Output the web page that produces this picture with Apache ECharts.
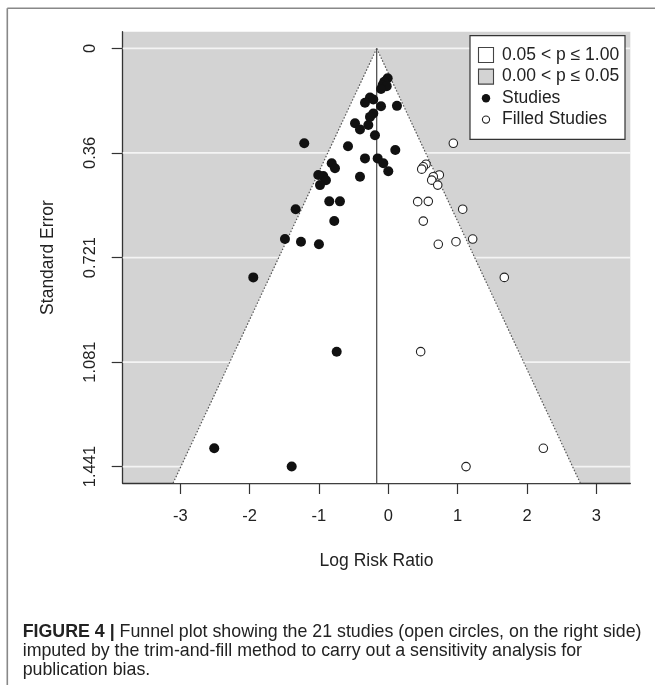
<!DOCTYPE html>
<html>
<head>
<meta charset="utf-8">
<script src="https://cdn.jsdelivr.net/npm/echarts@6/dist/echarts.min.js"></script>
<style>
html, body { margin: 0; padding: 0; background: #ffffff; }
#chart { width: 655px; height: 685px; }
</style>
</head>
<body>
<div id="chart"></div>
<script>
// ---- data ----
const xTicks = [-3, -2, -1, 0, 1, 2, 3];
const seTicks = [0, 0.36, 0.721, 1.081, 1.441];
const xRange = [-3.83, 3.49];
const seRange = [-0.0576, 1.4986];
const estimate = -0.167;
const zCrit = 1.96;

const studiesLogRR = [-0.009, -0.058, -0.081, -0.023, -0.105, -0.264, -0.216, -0.336, -0.105, 0.125,
  -0.216, -0.264, -0.480, -0.288, -0.408, -0.192, -1.212, -0.581, 0.101, -0.336,
  -0.153, -0.072, 0.000, -0.816, -0.769, -1.010, -0.938, -0.899, -0.985, -0.408,
  -0.851, -0.697, -1.336, -0.779, -1.490, -1.259, -1.000, -1.947, -0.744, -2.510, -1.393];
const studiesSE = [0.103, 0.115, 0.126, 0.130, 0.140, 0.169, 0.176, 0.187, 0.199, 0.198,
  0.224, 0.236, 0.258, 0.264, 0.279, 0.299, 0.327, 0.337, 0.350, 0.379,
  0.379, 0.396, 0.423, 0.396, 0.413, 0.436, 0.440, 0.454, 0.471, 0.442,
  0.527, 0.527, 0.554, 0.595, 0.657, 0.666, 0.675, 0.789, 1.045, 1.378, 1.441];

const filledLogRR = [0.938, 0.544, 0.505, 0.482, 0.736, 0.649, 0.626, 0.713, 0.424, 0.577,
  1.073, 0.505, 1.217, 0.976, 0.721, 1.673, 0.467, 2.236, 1.121];
const filledSE = [0.327, 0.399, 0.408, 0.416, 0.436, 0.442, 0.454, 0.471, 0.528, 0.527,
  0.554, 0.595, 0.657, 0.666, 0.675, 0.789, 1.045, 1.378, 1.441];

const legendLabels = ['0.05 < p \u2264 1.00', '0.00 < p \u2264 0.05', 'Studies', 'Filled Studies'];
const xTitle = 'Log Risk Ratio';
const yTitle = 'Standard Error';
const captionBold = 'FIGURE 4 |';
const captionLines = [
  ' Funnel plot showing the 21 studies (open circles, on the right side)',
  'imputed by the trim-and-fill method to carry out a sensitivity analysis for',
  'publication bias.'
];

// ---- chart ----
const FONT = 'Liberation Sans, Arial, sans-serif';
const chart = echarts.init(document.getElementById('chart'), null, { renderer: 'canvas' });

const studiesData = studiesLogRR.map((v, i) => [v, studiesSE[i]]);
const filledData = filledLogRR.map((v, i) => [v, filledSE[i]]);

function renderFunnel(params, api) {
  const yMax = seRange[1];
  const apex = api.coord([estimate, 0]);
  const bl = api.coord([estimate - zCrit * yMax, yMax]);
  const br = api.coord([estimate + zCrit * yMax, yMax]);
  const children = [];
  seTicks.forEach(t => {
    const a = api.coord([xRange[0], t]);
    const b = api.coord([xRange[1], t]);
    children.push({ type: 'line', shape: { x1: a[0], y1: a[1], x2: b[0], y2: b[1] },
      style: { stroke: '#f4f4f4', lineWidth: 1.6 } });
  });
  children.push({ type: 'polygon', shape: { points: [apex, bl, br] },
    style: { fill: '#ffffff', stroke: null } });
  children.push({ type: 'line', shape: { x1: apex[0], y1: apex[1], x2: bl[0], y2: bl[1] },
    style: { stroke: '#555', lineWidth: 1.2, lineDash: [1.5, 1.8] } });
  children.push({ type: 'line', shape: { x1: apex[0], y1: apex[1], x2: br[0], y2: br[1] },
    style: { stroke: '#555', lineWidth: 1.2, lineDash: [1.5, 1.8] } });
  const bottom = api.coord([estimate, yMax]);
  children.push({ type: 'line', shape: { x1: apex[0], y1: apex[1], x2: bottom[0], y2: bottom[1] },
    style: { stroke: '#444', lineWidth: 1.2 } });
  return { type: 'group', children: children };
}

// legend (graphic)
const legBox = { x: 470, y: 35.7, w: 155, h: 103.6 };
const legRowY = [55, 76.6, 98.2, 119.6];
const legendGraphics = [
  { type: 'rect', shape: { x: legBox.x, y: legBox.y, width: legBox.w, height: legBox.h },
    style: { fill: '#ffffff', stroke: '#333', lineWidth: 1.2 }, z: 10 },
  { type: 'rect', shape: { x: 478.5, y: legRowY[0] - 7.5, width: 15, height: 15 },
    style: { fill: '#ffffff', stroke: '#444', lineWidth: 1.1 }, z: 11 },
  { type: 'rect', shape: { x: 478.5, y: legRowY[1] - 7.5, width: 15, height: 15 },
    style: { fill: '#d3d3d3', stroke: '#444', lineWidth: 1.1 }, z: 11 },
  { type: 'circle', shape: { cx: 486, cy: legRowY[2], r: 4.2 },
    style: { fill: '#111' }, z: 11 },
  { type: 'circle', shape: { cx: 486, cy: legRowY[3], r: 3.6 },
    style: { fill: '#fff', stroke: '#222', lineWidth: 1.1 }, z: 11 }
];
legendLabels.forEach((t, i) => {
  legendGraphics.push({ type: 'text', x: 502, y: legRowY[i], z: 11,
    style: { text: t, font: '17.5px ' + FONT, fill: '#222', textVerticalAlign: 'middle', textAlign: 'left' } });
});

// frame + caption
const CAP = 17.8;
const frameGraphics = [
  { type: 'line', shape: { x1: 7.3, y1: 8.3, x2: 7.3, y2: 690 }, style: { stroke: '#888', lineWidth: 1.6 } },
  { type: 'line', shape: { x1: 7.3, y1: 8.3, x2: 660, y2: 8.3 }, style: { stroke: '#888', lineWidth: 1.6 } },
  { type: 'text', x: 22.7, y: 632, style: {
      text: '{b|' + captionBold + '}{r|' + captionLines[0] + '}',
      rich: { b: { font: 'bold ' + CAP + 'px ' + FONT, fill: '#222' }, r: { font: CAP + 'px ' + FONT, fill: '#222' } },
      textVerticalAlign: 'middle' } },
  { type: 'text', x: 22.7, y: 651, style: { text: captionLines[1], font: CAP + 'px ' + FONT, fill: '#222', textVerticalAlign: 'middle' } },
  { type: 'text', x: 22.7, y: 670, style: { text: captionLines[2], font: CAP + 'px ' + FONT, fill: '#222', textVerticalAlign: 'middle' } }
];

const option = {
  animation: false,
  backgroundColor: '#ffffff',
  grid: { left: 122.7, top: 31.7, width: 507.6, height: 451.6, show: true,
    backgroundColor: '#d3d3d3', borderWidth: 0, containLabel: false },
  xAxis: {
    type: 'value', min: xRange[0], max: xRange[1], position: 'bottom',
    name: xTitle, nameLocation: 'middle', nameGap: 69,
    nameTextStyle: { fontSize: 17.5, fontFamily: FONT, color: '#222' },
    axisLine: { show: true, onZero: false, lineStyle: { color: '#333', width: 1.3 } },
    axisTick: { show: true, length: 10.7, customValues: xTicks, lineStyle: { color: '#333', width: 1.2 } },
    axisLabel: { customValues: xTicks, margin: 25, fontSize: 16.5, fontFamily: FONT, color: '#222',
      formatter: v => String(v) },
    splitLine: { show: false }
  },
  yAxis: {
    type: 'value', inverse: true, min: seRange[0], max: seRange[1],
    name: yTitle, nameLocation: 'middle', nameGap: 66, nameRotate: 90,
    nameTextStyle: { fontSize: 17.5, fontFamily: FONT, color: '#222' },
    axisLine: { show: true, onZero: false, lineStyle: { color: '#333', width: 1.3 } },
    axisTick: { show: true, length: 11, customValues: seTicks, lineStyle: { color: '#333', width: 1.2 } },
    axisLabel: { customValues: seTicks, margin: 24, rotate: 90, fontSize: 16.5, fontFamily: FONT, color: '#222',
      formatter: v => String(v) },
    splitLine: { show: false }
  },
  series: [
    { type: 'custom', renderItem: renderFunnel, data: [[estimate, 0]], z: 1, silent: true, clip: true },
    { type: 'scatter', name: legendLabels[2], data: studiesData, symbol: 'circle', symbolSize: 10,
      itemStyle: { color: '#111', opacity: 1 }, z: 3 },
    { type: 'scatter', name: legendLabels[3], data: filledData, symbol: 'circle', symbolSize: 8.5,
      itemStyle: { color: '#ffffff', borderColor: '#222', borderWidth: 1.1, opacity: 1 }, z: 3 }
  ],
  graphic: frameGraphics.concat(legendGraphics)
};
chart.setOption(option);
</script>
</body>
</html>
